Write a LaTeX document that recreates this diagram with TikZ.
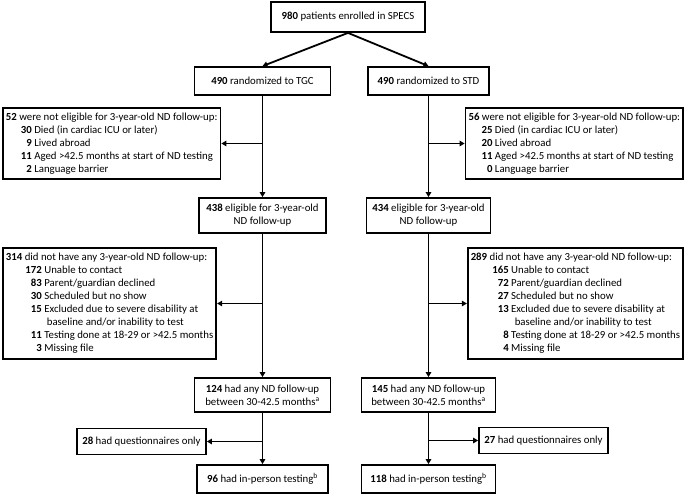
\documentclass[tikz,border=0pt]{standalone}
\usepackage{fontspec}
\setmainfont{Carlito}
\usetikzlibrary{arrows.meta}
\newcommand{\cnt}[2][26pt]{\makebox[#1][r]{\textbf{#2}}\ }

\begin{document}
\begin{tikzpicture}[x=1pt,y=-1pt,
    box/.style={draw, line width=1.8pt, align=center, inner sep=2pt,
        font=\fontsize{10.8}{13}\selectfont},
    listbox/.style={box, align=left, inner xsep=3pt, inner ysep=5pt},
    arr/.style={line width=1.8pt, -{Triangle[length=5pt,width=5.5pt]}}]
\useasboundingbox (0,0) rectangle (685,495);

\node[box, minimum width=154pt, minimum height=30pt] (all) at (348,17) {\textbf{980} patients enrolled in SPECS};
\node[box, minimum width=136pt, minimum height=28pt] (tgc) at (262.5,81) {\textbf{490} randomized to TGC};
\node[box, minimum width=121pt, minimum height=28pt] (std) at (428.5,81) {\textbf{490} randomized to STD};

\node[listbox, anchor=west] (exa) at (2,143.5) {\textbf{52} were not eligible for 3-year-old ND follow-up:\\
    \cnt{30}Died (in cardiac ICU or later)\\
    \cnt{9}Lived abroad\\
    \cnt{11}Aged >42.5 months at start of ND testing\\
    \cnt{2}Language barrier};
\node[listbox, anchor=east] (exb) at (684,143.5) {\textbf{56} were not eligible for 3-year-old ND follow-up:\\
    \cnt[24pt]{25}Died (in cardiac ICU or later)\\
    \cnt[24pt]{20}Lived abroad\\
    \cnt[24pt]{11}Aged >42.5 months at start of ND testing\\
    \cnt[24pt]{0}Language barrier};

\node[box, minimum width=127pt, minimum height=35pt] (ela) at (262.5,215.5) {\textbf{438} eligible for 3-year-old\\ND follow-up};
\node[box, minimum width=124pt, minimum height=35pt] (elb) at (428.5,215.5) {\textbf{434} eligible for 3-year-old\\ND follow-up};

\node[listbox, anchor=west] (nfa) at (2,303.5) {\textbf{314} did not have any 3-year-old ND follow-up:\\
    \cnt[36pt]{172}Unable to contact\\
    \cnt[36pt]{83}Parent/guardian declined\\
    \cnt[36pt]{30}Scheduled but no show\\
    \cnt[36pt]{15}Excluded due to severe disability at\\
    \hspace*{41pt}baseline and/or inability to test\\
    \cnt[36pt]{11}Testing done at 18-29 or >42.5 months\\
    \cnt[36pt]{3}Missing file};
\node[listbox, anchor=east] (nfb) at (684,303.5) {\textbf{289} did not have any 3-year-old ND follow-up:\\
    \cnt[38pt]{165}Unable to contact\\
    \cnt[38pt]{72}Parent/guardian declined\\
    \cnt[38pt]{27}Scheduled but no show\\
    \cnt[38pt]{13}Excluded due to severe disability at\\
    \hspace*{44pt}baseline and/or inability to test\\
    \cnt[38pt]{8}Testing done at 18-29 or >42.5 months\\
    \cnt[38pt]{4}Missing file};

\node[box, minimum width=136pt, minimum height=34pt] (anya) at (262.5,395) {\textbf{124} had any ND follow-up\\between 30-42.5 months\textsuperscript{a}};
\node[box, minimum width=134pt, minimum height=34pt] (anyb) at (428.5,395) {\textbf{145} had any ND follow-up\\between 30-42.5 months\textsuperscript{a}};

\node[box, minimum width=129pt, minimum height=26pt] (qa) at (141.5,441.5) {\textbf{28} had questionnaires only};
\node[box, minimum width=129pt, minimum height=26pt] (qb) at (543.5,440.5) {\textbf{27} had questionnaires only};

\node[box, minimum width=131pt, minimum height=28pt] (ipa) at (262.5,479) {\textbf{96} had in-person testing\textsuperscript{b}};
\node[box, minimum width=134pt, minimum height=28pt] (ipb) at (428.5,479) {\textbf{118} had in-person testing\textsuperscript{b}};

\draw[arr] (all.south) -- (tgc.north);
\draw[arr] (all.south) -- (std.north);
\draw[arr] (tgc) -- (ela);
\draw[arr] (std) -- (elb);
\draw[arr] (tgc |- exa) -- (exa);
\draw[arr] (std |- exb) -- (exb);
\draw[arr] (ela) -- (anya);
\draw[arr] (elb) -- (anyb);
\draw[arr] (ela |- nfa) -- (nfa);
\draw[arr] (elb |- nfb) -- (nfb);
\draw[arr] (anya) -- (ipa);
\draw[arr] (anyb) -- (ipb);
\draw[arr] (anya |- qa) -- (qa);
\draw[arr] (anyb |- qb) -- (qb);
\end{tikzpicture}
\end{document}
